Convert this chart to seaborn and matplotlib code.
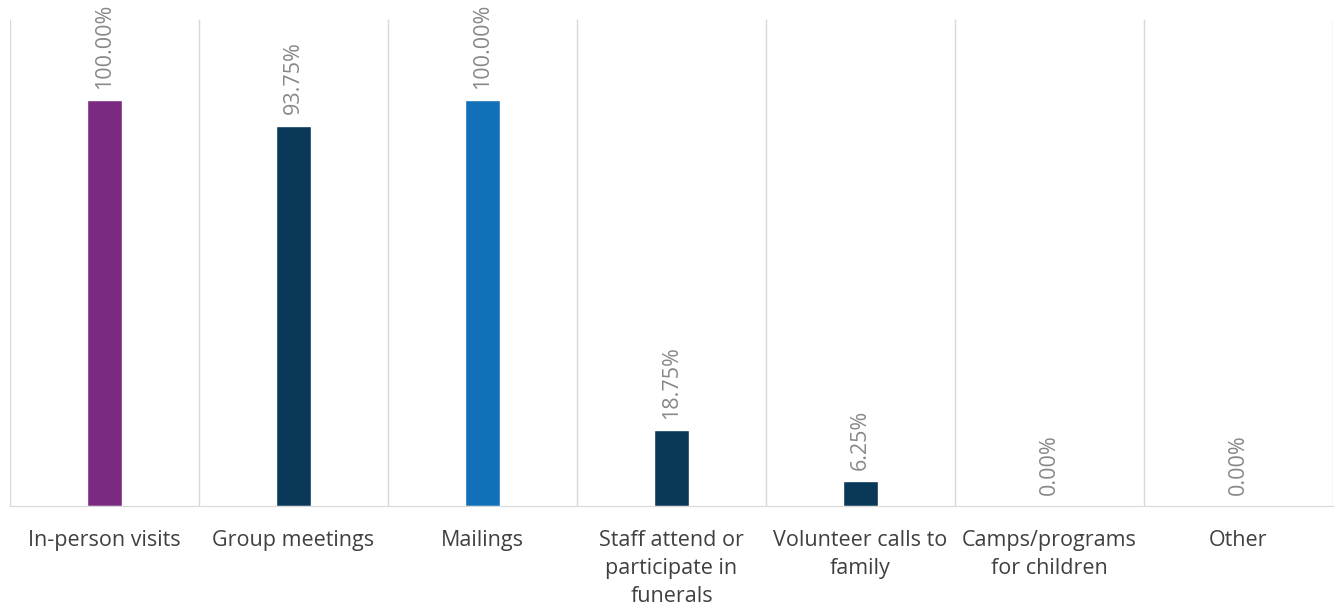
import numpy as np
import pandas as pd
import matplotlib
matplotlib.use("Agg")
import matplotlib.pyplot as plt
import seaborn as sns

# ===== data =====
categories = [
    "In-person visits",
    "Group meetings",
    "Mailings",
    "Staff attend or\nparticipate in\nfunerals",
    "Volunteer calls to\nfamily",
    "Camps/programs\nfor children",
    "Other",
]
values = [100.00, 93.75, 100.00, 18.75, 6.25, 0.00, 0.00]
bar_colors = ["#7B2A82", "#0A3858", "#1170B8", "#0A3858", "#0A3858", "#0A3858", "#0A3858"]

df = pd.DataFrame({"category": categories, "value": values})

sns.set_style("white")
plt.rcParams["font.family"] = ["Open Sans", "DejaVu Sans"]

fig = plt.figure(figsize=(13.38, 6.07), dpi=100)
ax = fig.add_axes([10 / 1338, 1 - 506 / 607, 1323 / 1338, 487 / 607])

sns.barplot(data=df, x="category", y="value", hue="category", palette=bar_colors,
            legend=False, width=0.185, saturation=1, ax=ax)

n = len(categories)
ax.set_xlim(-0.5, n - 0.5)
ax.set_ylim(0, 120)
ax.vlines(np.arange(n + 1) - 0.5, 0, 120, color="#d9d9d9", lw=1, zorder=0)

for i, v in enumerate(values):
    ax.annotate(f"{v:.2f}%", (i, v), xytext=(0, 8), textcoords="offset points",
                rotation=90, ha="center", va="bottom", fontsize=15.5, color="#888888")

for s in ["top", "left", "right"]:
    ax.spines[s].set_visible(False)
ax.spines["bottom"].set_color("#d9d9d9")
ax.set_yticks([])
ax.set_xlabel("")
ax.set_ylabel("")
ax.tick_params(axis="x", length=0, pad=17, labelsize=15.5, labelcolor="#404040")
for lbl in ax.get_xticklabels():
    lbl.set_va("top")
    lbl.set_linespacing(1.45)

plt.savefig("out.png", dpi=100)
plt.close()
